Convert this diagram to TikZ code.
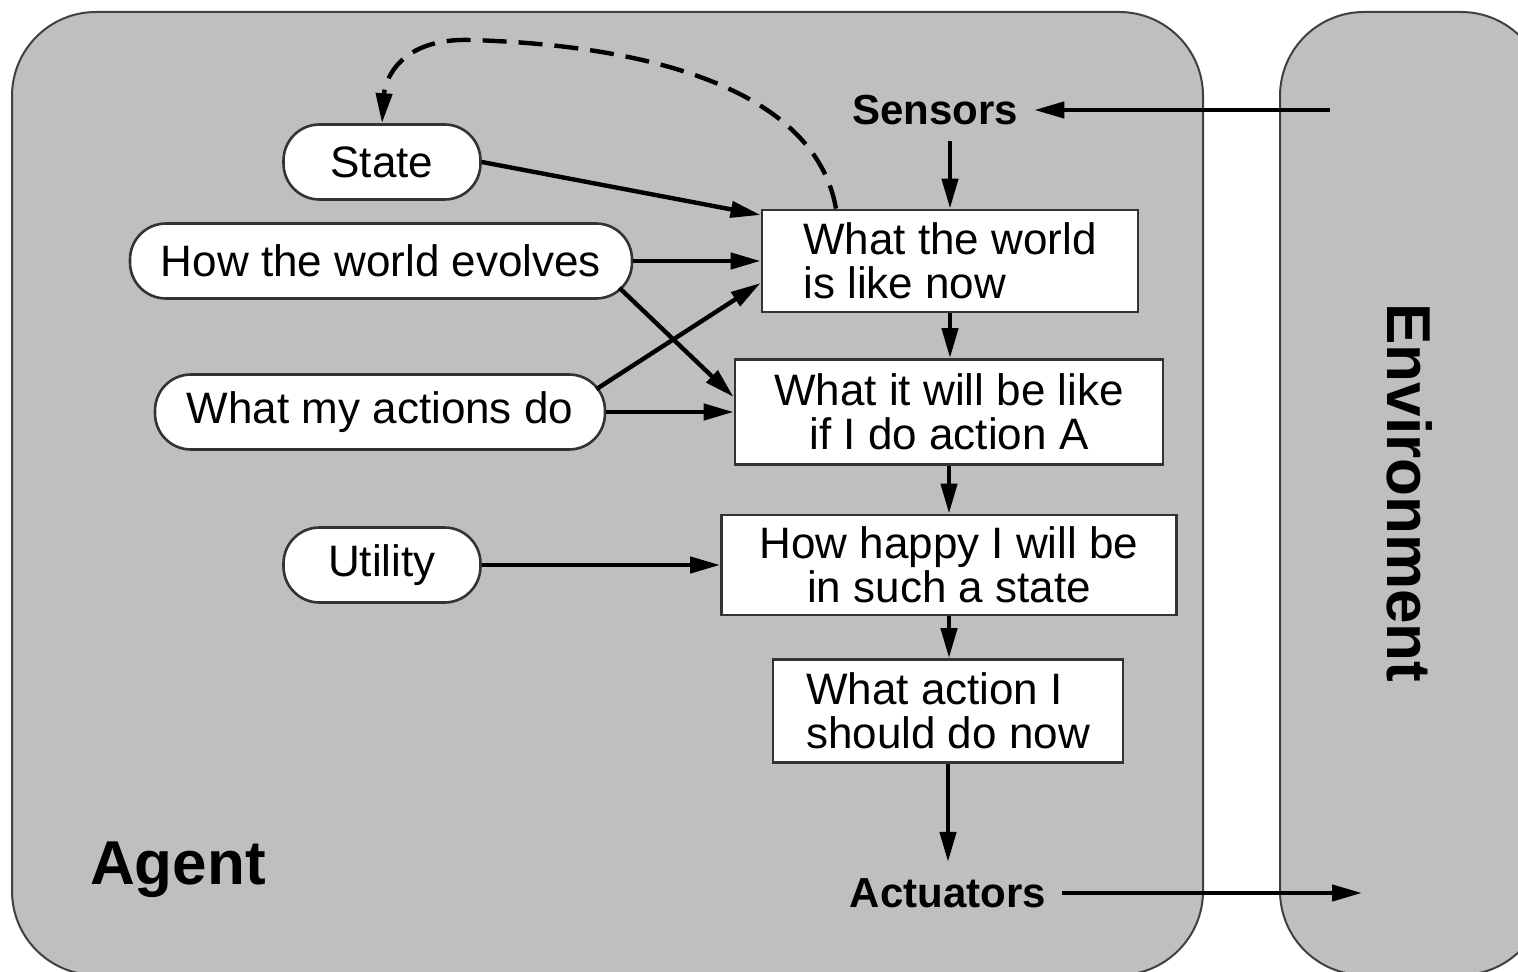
\documentclass[tikz,border=0pt]{standalone}
\usepackage{fontspec}
\setmainfont{Liberation Sans}
\usetikzlibrary{arrows.meta}

\begin{document}
\begin{tikzpicture}
    [x=0.5pt, y=-0.5pt,
    every node/.style={font=\fontsize{22}{22}\selectfont, inner sep=0pt},
    panel/.style={draw=black!75, line width=1pt, fill=black!25, rounded corners=42pt},
    model/.style={draw=black!80, line width=1.3pt, fill=white, rounded corners=18pt, minimum height=37.5pt},
    stagebox/.style={draw=black!80, line width=1.4pt, fill=white, minimum height=51pt},
    tag/.style={font=\fontsize{21}{21}\selectfont\bfseries, inner sep=8pt},
    link/.style={line width=2.2pt, -{Triangle[length=15pt,width=8pt]}}]

    \clip (0,0) rectangle (1518,972);
    \fill[white] (0,0) rectangle (1518,972);

    \node[panel, minimum width=595.5pt, minimum height=481.5pt] (agent) at (607.5,493.5) {};
    \node[panel, minimum width=132.5pt, minimum height=481.5pt] (environment) at (1412.5,493.5) {};
    \node[font=\fontsize{31}{31}\selectfont\bfseries] (agentname) at (178,870) {Agent};
    \node[font=\fontsize{31}{31}\selectfont\bfseries, rotate=-90] (envname) at (1410,493) {Environment};
    \node[tag] (sensors) at (935,110) {Sensors};
    \node[tag] (actuators) at (948,893) {Actuators};

    \node[stagebox, minimum width=188pt, align=left] (now) at (950,261) {What the world\\is like now};
    \node[stagebox, minimum width=214pt, minimum height=52.5pt, align=center] (future) at (949,412) {What it will be like\\if I do action A};
    \node[stagebox, minimum width=227.5pt, minimum height=50pt, align=center] (happy) at (949,565) {How happy I will be\\in such a state};
    \node[stagebox, minimum width=175pt, minimum height=51.5pt, align=left] (choice) at (948,711) {What action I\\should do now};

    \node[model, minimum width=98.5pt] (state) at (382,162) {State};
    \node[model, minimum width=251pt] (evolves) at (381,261) {How the world evolves};
    \node[model, minimum width=225pt] (effects) at (380,412) {What my actions do};
    \node[model, minimum width=98.5pt] (utility) at (382,565) {Utility};

    \coordinate (percept) at (1330,110);
    \coordinate (act) at (1362,893);

    \draw[link] (percept) -- (sensors.east);
    \draw[link] (sensors.south -| now.north) -- (now.north);
    \draw[link] (now.south) -- (now.south |- future.north);
    \draw[link] (future.south) -- (future.south |- happy.north);
    \draw[link] (happy.south) -- (happy.south |- choice.north);
    \draw[link] (choice.south) -- (choice.south |- actuators.north);
    \draw[link] (actuators.east) -- (act);

    \draw[link] (state.east) -- ([yshift=23pt]now.west);
    \draw[link] (evolves.east) -- (now.west);
    \draw[link] ([xshift=-7pt,yshift=6pt]evolves.south east) -- ([yshift=7.5pt]future.west);
    \draw[link] ([xshift=-5pt,yshift=-8pt]effects.north east) -- ([yshift=-11pt]now.west);
    \draw[link] (effects.east) -- (future.west);
    \draw[link] (utility.east) -- (happy.west);
    \draw[link, dash pattern=on 12pt off 6pt] ([xshift=-57pt]now.north) .. controls (815,90) and (650,45) .. (470,40) .. controls (400,38) and (385,80) .. (state.north);
\end{tikzpicture}
\end{document}
